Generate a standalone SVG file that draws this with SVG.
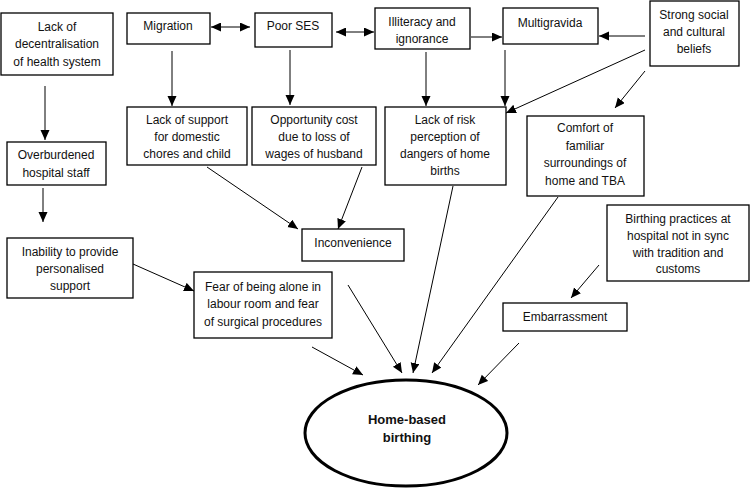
<svg xmlns="http://www.w3.org/2000/svg" width="750" height="489" viewBox="0 0 750 489">
<style>
.box{fill:#fff;stroke:#000;stroke-width:1.3}
.t{font-family:"Liberation Sans",Arial,sans-serif;font-size:12px;fill:#111;text-anchor:middle}
.b{font-weight:bold;font-size:13px}
.c{stroke:#000;stroke-width:1;fill:none;marker-end:url(#ah)}
.d{marker-start:url(#as)}
</style>
<defs>
<marker id="ah" markerUnits="userSpaceOnUse" markerWidth="12" markerHeight="10" refX="10" refY="4.5" orient="auto">
<path d="M0,0 L10,4.5 L0,9 Z" fill="#000"/>
</marker>
<marker id="as" markerUnits="userSpaceOnUse" markerWidth="12" markerHeight="10" refX="0" refY="4.5" orient="auto">
<path d="M10,0 L0,4.5 L10,9 Z" fill="#000"/>
</marker>
</defs>
<rect width="750" height="489" fill="#fff"/>
<g id="connectors">
<line class="c d" x1="211" y1="27" x2="250" y2="27"/>
<line class="c d" x1="336" y1="32" x2="374" y2="32"/>
<line class="c" x1="471" y1="37" x2="502" y2="37"/>
<line class="c" x1="645" y1="36" x2="599" y2="36"/>
<line class="c" x1="645" y1="50" x2="506" y2="113"/>
<line class="c" x1="645" y1="71" x2="615" y2="108"/>
<line class="c" x1="505" y1="50" x2="505" y2="106"/>
<line class="c" x1="426" y1="52" x2="426" y2="106"/>
<line class="c" x1="290" y1="50" x2="290" y2="105"/>
<line class="c" x1="172" y1="51" x2="172" y2="106"/>
<line class="c" x1="45" y1="86" x2="45" y2="140"/>
<line class="c" x1="43" y1="188" x2="43" y2="222"/>
<line class="c" x1="133" y1="264" x2="194" y2="291"/>
<line class="c" x1="207" y1="167" x2="298" y2="229"/>
<line class="c" x1="362" y1="167" x2="338" y2="229"/>
<line class="c" x1="312" y1="347" x2="363" y2="375"/>
<line class="c" x1="348" y1="285" x2="402" y2="373"/>
<line class="c" x1="453" y1="186" x2="413" y2="373"/>
<line class="c" x1="558" y1="197" x2="432" y2="373"/>
<line class="c" x1="519" y1="343" x2="478" y2="385"/>
<line class="c" x1="599" y1="265" x2="571" y2="298"/>
</g>
<g id="n1"><rect class="box" x="1" y="13" width="112" height="62"/>
<text class="t" x="57" y="31">Lack of</text><text class="t" x="57" y="48">decentralisation</text><text class="t" x="57" y="66">of health system</text></g>
<g id="n2"><rect class="box" x="127" y="13" width="83" height="31"/>
<text class="t" x="168" y="30">Migration</text></g>
<g id="n3"><rect class="box" x="127" y="107" width="120" height="58"/>
<text class="t" x="187" y="124">Lack of support</text><text class="t" x="187" y="141">for domestic</text><text class="t" x="187" y="158">chores and child</text></g>
<g id="n4"><rect class="box" x="7" y="142" width="99" height="43"/>
<text class="t" x="56" y="159">Overburdened</text><text class="t" x="56" y="177">hospital staff</text></g>
<g id="n5"><rect class="box" x="255" y="13" width="77" height="34"/>
<text class="t" x="293" y="30">Poor SES</text></g>
<g id="n6"><rect class="box" x="375" y="8" width="95" height="41"/>
<text class="t" x="422" y="26">Illiteracy and</text><text class="t" x="422" y="43">ignorance</text></g>
<g id="n7"><rect class="box" x="252" y="107" width="124" height="58"/>
<text class="t" x="314" y="124">Opportunity cost</text><text class="t" x="314" y="141">due to loss of</text><text class="t" x="314" y="158">wages of husband</text></g>
<g id="n8"><rect class="box" x="385" y="107" width="121" height="78"/>
<text class="t" x="445" y="124">Lack of risk</text><text class="t" x="445" y="141">perception of</text><text class="t" x="445" y="158">dangers of home</text><text class="t" x="445" y="175">births</text></g>
<g id="n9"><rect class="box" x="503" y="8" width="95" height="36"/>
<text class="t" x="550" y="27">Multigravida</text></g>
<g id="n10"><rect class="box" x="650" y="1" width="89" height="65"/>
<text class="t" x="694" y="19">Strong social</text><text class="t" x="694" y="36">and cultural</text><text class="t" x="694" y="53">beliefs</text></g>
<g id="n11"><rect class="box" x="527" y="116" width="117" height="80"/>
<text class="t" x="585" y="132">Comfort of</text><text class="t" x="585" y="150">familiar</text><text class="t" x="585" y="167">surroundings of</text><text class="t" x="585" y="185">home and TBA</text></g>
<g id="n12"><rect class="box" x="302" y="229" width="102" height="32"/>
<text class="t" x="353" y="247">Inconvenience</text></g>
<g id="n13"><rect class="box" x="7" y="238" width="126" height="60"/>
<text class="t" x="70" y="256">Inability to provide</text><text class="t" x="70" y="273">personalised</text><text class="t" x="70" y="290">support</text></g>
<g id="n14"><rect class="box" x="194" y="272" width="138" height="66"/>
<text class="t" x="263" y="291">Fear of being alone in</text><text class="t" x="263" y="308">labour room and fear</text><text class="t" x="263" y="326">of surgical procedures</text></g>
<g id="n15"><rect class="box" x="607" y="205" width="142" height="76"/>
<text class="t" x="678" y="223">Birthing practices at</text><text class="t" x="678" y="240">hospital not in sync</text><text class="t" x="678" y="257">with tradition and</text><text class="t" x="678" y="273">customs</text></g>
<g id="n16"><rect class="box" x="503" y="303" width="124" height="28"/>
<text class="t" x="565" y="321">Embarrassment</text></g>
<g id="n17"><ellipse cx="406" cy="433" rx="101" ry="53" fill="#fff" stroke="#000" stroke-width="3"/>
<text class="t b" x="407" y="424">Home-based</text><text class="t b" x="407" y="442">birthing</text></g>
</svg>
